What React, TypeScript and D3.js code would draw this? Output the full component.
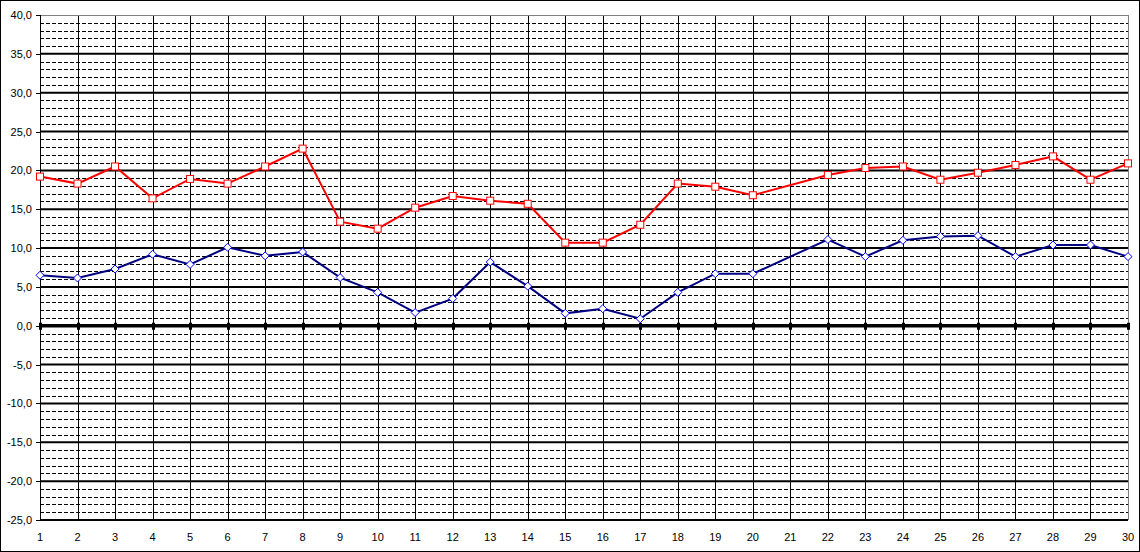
import React from "react";
import * as d3 from "d3";

const days = d3.range(1, 31);
const maxTemp: (number | null)[] = [
  19.2, 18.3, 20.5, 16.4, 18.9, 18.3, 20.5, 22.8, 13.4, 12.5,
  15.2, 16.7, 16.1, 15.7, 10.7, 10.7, 13.0, 18.3, 17.9, 16.8,
  null, 19.4, 20.3, 20.5, 18.8, 19.7, 20.7, 21.8, 18.8, 20.9,
];
const minTemp: (number | null)[] = [
  6.5, 6.15, 7.3, 9.2, 7.9, 10.1, 9.0, 9.5, 6.2, 4.3,
  1.7, 3.5, 8.2, 5.1, 1.6, 2.2, 0.9, 4.3, 6.7, 6.7,
  null, 11.1, 8.9, 11.0, 11.5, 11.6, 8.9, 10.4, 10.4, 8.9,
];
const yMajorTicks = d3.range(-25, 40.001, 5);
const yMinorTicks = d3.range(-25, 40.001, 1).filter((v) => v % 5 !== 0);

const W = 1140;
const H = 552;
const L = 40;
const R = 1128;
const T = 15;
const B = 520;

export default function App() {
  const x = d3.scaleLinear().domain([1, 30]).range([L, R]);
  const y = d3.scaleLinear().domain([-25, 40]).range([B, T]);
  const fmt = (v: number) => v.toFixed(1).replace(".", ",");

  const mkLine = (vals: (number | null)[]) => {
    const pts = days
      .map((d, i) => [d, vals[i]] as [number, number | null])
      .filter((p) => p[1] !== null) as [number, number][];
    return d3
      .line<[number, number]>()
      .x((p) => x(p[0]))
      .y((p) => y(p[1]))(pts) as string;
  };

  return (
    <svg
      width={W}
      height={H}
      style={{ position: "absolute", left: 0, top: 0, fontFamily: "Liberation Sans, Arial, sans-serif" }}
    >
      <rect x={0.5} y={0.5} width={W - 1} height={H - 1} fill="white" stroke="black" strokeWidth={1} />
      <rect x={L} y={T} width={R - L} height={B - T} fill="white" />
      {/* minor dashed gridlines */}
      {yMinorTicks.map((v) => (
        <line key={"mn" + v} x1={L} x2={R} y1={Math.round(y(v)) + 0.5} y2={Math.round(y(v)) + 0.5}
          stroke="black" strokeWidth={1} strokeDasharray="4,2" />
      ))}
      {/* vertical gridlines */}
      {days.slice(1).map((d) => (
        <line key={"v" + d} x1={Math.round(x(d)) + 0.5} x2={Math.round(x(d)) + 0.5} y1={T} y2={B}
          stroke={d === 30 ? "#808080" : "black"} strokeWidth={1} />
      ))}
      {/* major gridlines */}
      {yMajorTicks.map((v) =>
        v === 40 ? (
          <line key={"mj" + v} x1={L} x2={R} y1={y(v) + 0.5} y2={y(v) + 0.5} stroke="#808080" strokeWidth={1} />
        ) : (
          <line key={"mj" + v} x1={L} x2={R} y1={y(v)} y2={y(v)}
            stroke="black" strokeWidth={v === 0 ? 3.5 : 2} />
        )
      )}
      {/* left axis */}
      <line x1={L + 0.5} x2={L + 0.5} y1={T} y2={B} stroke="black" strokeWidth={1} />
      {yMajorTicks.map((v) => (
        <line key={"lt" + v} x1={L - 4} x2={L} y1={Math.round(y(v)) + 0.5} y2={Math.round(y(v)) + 0.5}
          stroke="black" strokeWidth={1} />
      ))}
      {yMajorTicks.map((v) => (
        <text key={"yl" + v} x={32} y={y(v) + 4} textAnchor="end" fontSize={11} fill="#000">
          {fmt(v)}
        </text>
      ))}
      {/* category ticks on zero line */}
      {days.map((d) => (
        <rect key={"zt" + d} x={Math.round(x(d)) - 1} y={y(0) - 3} width={3} height={7} fill="black" />
      ))}
      {/* x labels */}
      {days.map((d) => (
        <text key={"xl" + d} x={x(d)} y={541} textAnchor="middle" fontSize={11} fill="#000">
          {d}
        </text>
      ))}
      {/* series */}
      <path d={mkLine(minTemp)} fill="none" stroke="#000080" strokeWidth={2} />
      <path d={mkLine(maxTemp)} fill="none" stroke="#FF0000" strokeWidth={2} />
      {days.map((d, i) =>
        minTemp[i] === null ? null : (
          <path key={"mm" + d} d={`M${x(d)},${y(minTemp[i] as number) - 4}l4,4l-4,4l-4,-4z`}
            fill="white" stroke="#0000FF" strokeWidth={1} />
        )
      )}
      {days.map((d, i) =>
        maxTemp[i] === null ? null : (
          <rect key={"xm" + d} x={x(d) - 3.5} y={y(maxTemp[i] as number) - 3.5} width={7} height={7}
            fill="white" stroke="#FF0000" strokeWidth={1} />
        )
      )}
    </svg>
  );
}
